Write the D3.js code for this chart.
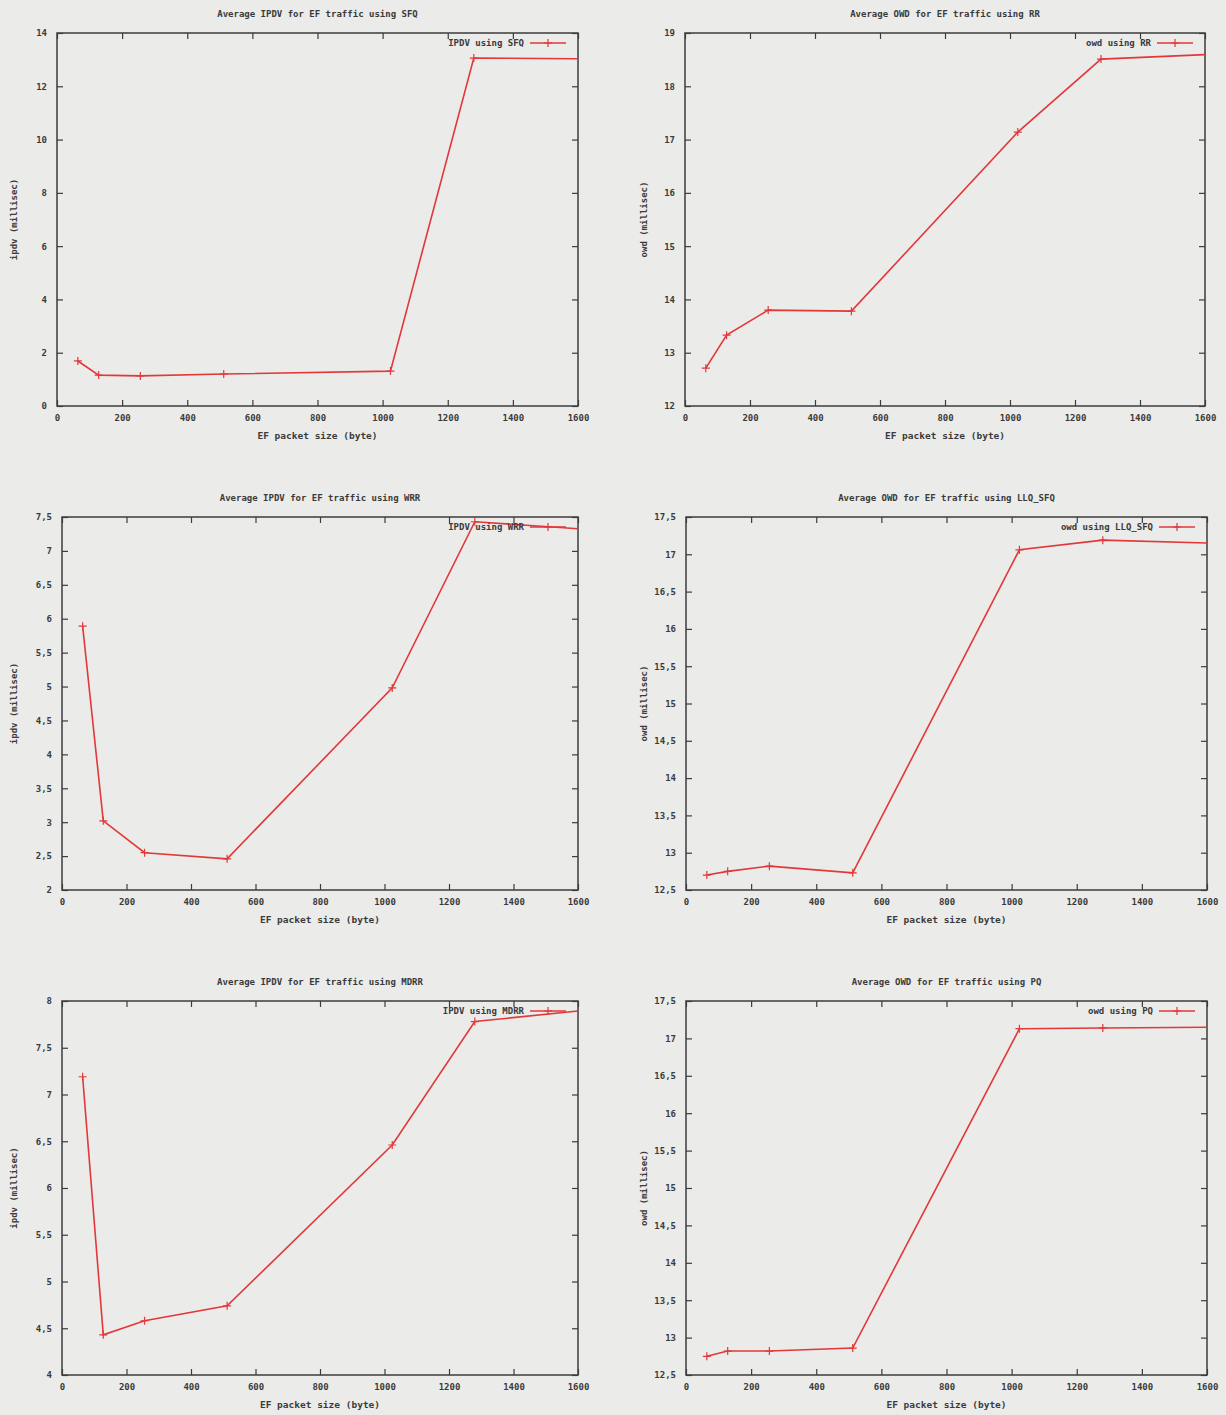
<!DOCTYPE html>
<html>
<head>
<meta charset="utf-8">
<script src="https://cdn.jsdelivr.net/npm/d3@7"></script>
<style>
  html, body { margin: 0; padding: 0; background: #ebebe9; }
  svg { display: block; }
  text { font-family: "DejaVu Sans Mono", monospace; font-weight: bold; fill: #3a3a3a; }
</style>
</head>
<body>
<svg id="chart" width="1226" height="1415"></svg>
<script>
// Packet sizes (bytes); the last sample lies just past the plotted range
const packetSizes = [64, 128, 256, 512, 1024, 1280, 1620];

// Measured delay statistics (milliseconds)
const ipdvSFQ = [1.69, 1.16, 1.13, 1.20, 1.31, 13.06, 13.03];
const owdRR = [12.71, 13.33, 13.80, 13.78, 17.14, 18.51, 18.60];
const ipdvWRR = [5.89, 3.02, 2.55, 2.46, 4.98, 7.43, 7.32];
const owdLLQSFQ = [12.70, 12.75, 12.82, 12.73, 17.06, 17.19, 17.15];
const ipdvMDRR = [7.19, 4.43, 4.58, 4.74, 6.46, 7.78, 7.90];
const owdPQ = [12.75, 12.82, 12.82, 12.86, 17.13, 17.14, 17.15];

const xTicks = [0, 200, 400, 600, 800, 1000, 1200, 1400, 1600];
const ticksSFQ = [0, 2, 4, 6, 8, 10, 12, 14];
const ticksRR = [12, 13, 14, 15, 16, 17, 18, 19];
const ticksWRR = [2, 2.5, 3, 3.5, 4, 4.5, 5, 5.5, 6, 6.5, 7, 7.5];
const ticksOwdHalf = [12.5, 13, 13.5, 14, 14.5, 15, 15.5, 16, 16.5, 17, 17.5];
const ticksMDRR = [4, 4.5, 5, 5.5, 6, 6.5, 7, 7.5, 8];

const panels = [
  { title: "Average IPDV for EF traffic using SFQ", key: "IPDV using SFQ", yLabel: "ipdv (millisec)",
    values: ipdvSFQ, yTicks: ticksSFQ, box: [57, 578, 33, 406] },
  { title: "Average OWD for EF traffic using RR", key: "owd using RR", yLabel: "owd (millisec)",
    values: owdRR, yTicks: ticksRR, box: [685, 1205, 33, 406] },
  { title: "Average IPDV for EF traffic using WRR", key: "IPDV using WRR", yLabel: "ipdv (millisec)",
    values: ipdvWRR, yTicks: ticksWRR, box: [62, 578, 517, 890] },
  { title: "Average OWD for EF traffic using LLQ_SFQ", key: "owd using LLQ_SFQ", yLabel: "owd (millisec)",
    values: owdLLQSFQ, yTicks: ticksOwdHalf, box: [686, 1207, 517, 890] },
  { title: "Average IPDV for EF traffic using MDRR", key: "IPDV using MDRR", yLabel: "ipdv (millisec)",
    values: ipdvMDRR, yTicks: ticksMDRR, box: [62, 578, 1001, 1375] },
  { title: "Average OWD for EF traffic using PQ", key: "owd using PQ", yLabel: "owd (millisec)",
    values: owdPQ, yTicks: ticksOwdHalf, box: [686, 1207, 1001, 1375] }
];

const svg = d3.select("#chart");
const frameColor = "#3c3c3c";
const lineColor = "#e2383a";
const fmt = v => String(v).replace(".", ",");

panels.forEach((p, i) => {
  const [x0, x1, y0, y1] = p.box;
  const x = d3.scaleLinear().domain([0, 1600]).range([x0, x1]);
  const y = d3.scaleLinear().domain([p.yTicks[0], p.yTicks[p.yTicks.length - 1]]).range([y1, y0]);
  const g = svg.append("g");

  const clipId = "clip" + i;
  g.append("clipPath").attr("id", clipId)
    .append("rect").attr("x", x0).attr("y", y0).attr("width", x1 - x0).attr("height", y1 - y0);

  // Axes with inward ticks, mirrored on the opposite sides
  const tickLen = 6;
  const bottom = d3.axisBottom(x).tickValues(xTicks).tickSizeInner(-tickLen).tickSizeOuter(0).tickFormat(d3.format("d")).tickPadding(9);
  const top = d3.axisTop(x).tickValues(xTicks).tickSizeInner(-tickLen).tickSizeOuter(0).tickFormat("");
  const left = d3.axisLeft(y).tickValues(p.yTicks).tickSizeInner(-tickLen).tickSizeOuter(0).tickFormat(fmt).tickPadding(10);
  const right = d3.axisRight(y).tickValues(p.yTicks).tickSizeInner(-tickLen).tickSizeOuter(0).tickFormat("");

  const styleAxis = sel => {
    sel.select(".domain").remove();
    sel.selectAll("line").attr("stroke", frameColor).attr("stroke-width", 1.2);
    sel.selectAll("text").attr("font-family", "DejaVu Sans Mono, monospace").attr("font-weight", "bold")
      .attr("font-size", 9).attr("fill", "#3a3a3a");
  };
  g.append("g").attr("transform", `translate(0,${y1})`).call(bottom).call(styleAxis);
  g.append("g").attr("transform", `translate(0,${y0})`).call(top).call(styleAxis);
  g.append("g").attr("transform", `translate(${x0},0)`).call(left).call(styleAxis);
  g.append("g").attr("transform", `translate(${x1},0)`).call(right).call(styleAxis);

  g.append("rect").attr("x", x0).attr("y", y0).attr("width", x1 - x0).attr("height", y1 - y0)
    .attr("fill", "none").attr("stroke", frameColor).attr("stroke-width", 1.5);

  // Titles and axis labels
  const cx = (x0 + x1) / 2;
  g.append("text").attr("x", cx).attr("y", y0 - 16).attr("text-anchor", "middle")
    .attr("font-size", 9).text(p.title);
  g.append("text").attr("x", cx).attr("y", y1 + 33).attr("text-anchor", "middle")
    .attr("font-size", 9.5).text("EF packet size (byte)");
  const lx = x0 < 300 ? 17 : 647;
  g.append("text").attr("transform", `translate(${lx},${(y0 + y1) / 2}) rotate(-90)`)
    .attr("text-anchor", "middle").attr("font-size", 9).text(p.yLabel);

  // Data series
  const pts = packetSizes.map((s, k) => [s, p.values[k]]);
  const plot = g.append("g").attr("clip-path", `url(#${clipId})`);
  plot.append("path").datum(pts)
    .attr("d", d3.line().x(d => x(d[0])).y(d => y(d[1])))
    .attr("fill", "none").attr("stroke", lineColor).attr("stroke-width", 1.6);
  const m = 4;
  plot.selectAll(".pt").data(pts).enter().append("path")
    .attr("d", d => `M${x(d[0]) - m},${y(d[1])}h${2 * m}M${x(d[0])},${y(d[1]) - m}v${2 * m}`)
    .attr("stroke", lineColor).attr("stroke-width", 1.2);

  // Key in the upper right corner
  const ky = y0 + 10;
  const kx1 = x1 - 12, kx0 = kx1 - 36;
  g.append("text").attr("x", kx0 - 6).attr("y", ky + 3).attr("text-anchor", "end")
    .attr("font-size", 9).text(p.key);
  g.append("line").attr("x1", kx0).attr("x2", kx1).attr("y1", ky).attr("y2", ky)
    .attr("stroke", lineColor).attr("stroke-width", 1.4);
  const km = (kx0 + kx1) / 2;
  g.append("path").attr("d", `M${km - m},${ky}h${2 * m}M${km},${ky - m}v${2 * m}`)
    .attr("stroke", lineColor).attr("stroke-width", 1.2);
});
</script>
</body>
</html>
